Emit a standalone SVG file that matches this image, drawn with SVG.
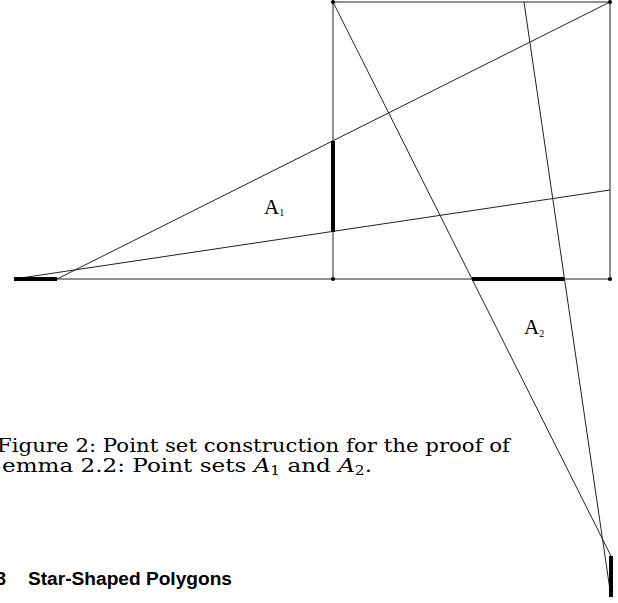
<svg xmlns="http://www.w3.org/2000/svg" width="618" height="603" viewBox="0 0 618 603">
<style>
.ln{stroke:#222;stroke-width:1;fill:none}
.thick{stroke:#000;stroke-width:4;fill:none}
.dot{fill:#000}
.lbl{font-family:"Liberation Serif",serif;fill:#000}
.cap{font-family:"DejaVu Serif",serif;font-size:18px;fill:#000}
.head{font-family:"Liberation Sans",sans-serif;font-weight:bold;font-size:18px;fill:#000}
</style>
<rect width="618" height="603" fill="#fff"/>
<g id="connectors">
<line class="ln" x1="14" y1="279" x2="610" y2="279"/>
<line class="ln" x1="333" y1="2" x2="610" y2="2"/>
<line class="ln" x1="333" y1="2" x2="333" y2="279"/>
<line class="ln" x1="610" y1="2" x2="610" y2="279"/>
<line class="ln" x1="57" y1="279" x2="610" y2="2"/>
<line class="ln" x1="14" y1="279" x2="610" y2="190"/>
<line class="ln" x1="333" y1="2" x2="611" y2="556"/>
<line class="ln" x1="524" y1="2" x2="611" y2="597"/>
</g>
<g id="A1set"><line class="thick" x1="333" y1="141" x2="333" y2="232"/></g>
<g id="A2set"><line class="thick" x1="472" y1="279" x2="564" y2="279"/></g>
<g id="leftset"><line class="thick" x1="14" y1="279" x2="57" y2="279"/></g>
<g id="bottomset"><line class="thick" x1="611" y1="556" x2="611" y2="597"/></g>
<g id="corners">
<circle class="dot" cx="333" cy="2" r="2"/>
<circle class="dot" cx="610" cy="2" r="2"/>
<circle class="dot" cx="333" cy="279" r="2"/>
<circle class="dot" cx="610" cy="279" r="2"/>
</g>
<g id="labelA1"><text class="lbl" x="264" y="214" font-size="21">A<tspan font-size="10" dy="2">1</tspan></text></g>
<g id="labelA2"><text class="lbl" x="524" y="334" font-size="21">A<tspan font-size="10" dy="3">2</tspan></text></g>
<g id="caption">
<text class="cap" x="-3" y="452" textLength="513" lengthAdjust="spacingAndGlyphs">Figure 2: Point set construction for the proof of</text>
<text class="cap" x="2" y="472" textLength="370" lengthAdjust="spacingAndGlyphs">emma 2.2: Point sets <tspan font-style="italic">A</tspan><tspan font-size="12" dy="3">1</tspan><tspan dy="-3"> and </tspan><tspan font-style="italic">A</tspan><tspan font-size="12" dy="3">2</tspan><tspan dy="-3">.</tspan></text>
</g>
<g id="heading">
<text class="head" x="-4" y="585">3</text>
<text class="head" x="28" y="585" textLength="204" lengthAdjust="spacingAndGlyphs">Star-Shaped Polygons</text>
</g>
</svg>
